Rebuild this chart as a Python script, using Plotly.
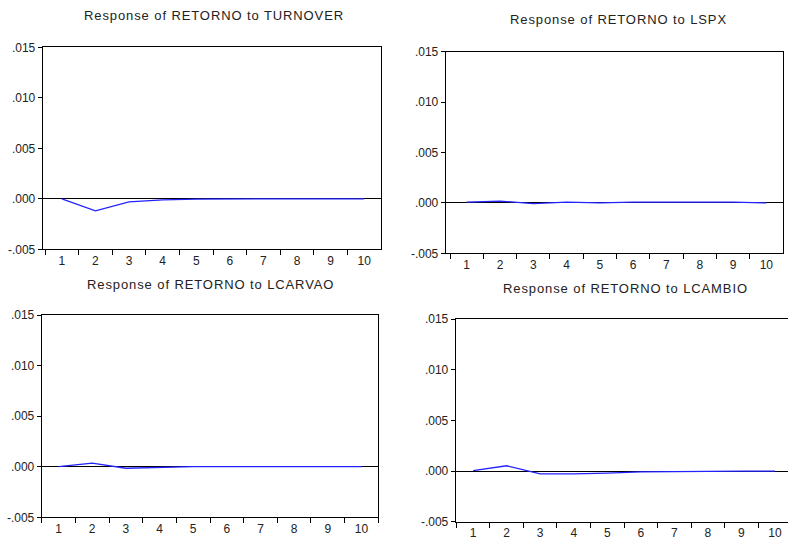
import plotly.graph_objects as go

# Impulse responses of RETORNO over 10 periods
periods = [str(i) for i in range(1, 11)]
turnover = [0.0, -0.00120, -0.00030, -0.00010, -0.00004, -0.00001, 0.0, 0.0, 0.0, 0.0]
lspx = [0.00008, 0.00018, -0.00008, 0.00008, 0.0, 0.00008, 0.00008, 0.00008, 0.00008, 0.0]
lcarvao = [0.0, 0.00035, -0.00015, -0.00006, 0.0, 0.0, 0.0, 0.0, 0.0, 0.0]
lcambio = [0.00004, 0.00052, -0.00028, -0.00028, -0.00020, -0.00008, -0.00005, 0.0, 0.0, 0.0]

titles = ["Response of RETORNO to TURNOVER", "Response of RETORNO to LSPX",
          "Response of RETORNO to LCARVAO", "Response of RETORNO to LCAMBIO"]
y_ticks = [-0.005, 0.0, 0.005, 0.010, 0.015]
y_tick_text = ["-.005", ".000", ".005", ".010", ".015"]

W, H = 788, 539
FONT = "Liberation Sans, Arial, sans-serif"
TXT = "#222222"

# panel boxes in pixels: (left, right, top, bottom), category range, title centre
panels = [
    dict(box=(42.7, 381.0, 47.3, 249.3), xr=[-0.57, 9.5], tc=(214, 16), mirror_y=True),
    dict(box=(445.7, 783.0, 51.7, 253.3), xr=[-0.63, 9.5], tc=(618, 20), mirror_y=True),
    dict(box=(41.7, 378.3, 315.0, 517.3), xr=[-0.5, 9.5], tc=(210, 284), mirror_y=True),
    dict(box=(455.7, 788.0, 319.0, 521.7), xr=[-0.52, 9.39], tc=(625, 288), mirror_y=False),
]
series = [turnover, lspx, lcarvao, lcambio]

fig = go.Figure()
layout = dict(
    width=W, height=H, autosize=False,
    margin=dict(l=0, r=0, t=0, b=0, pad=0, autoexpand=False),
    paper_bgcolor="white", plot_bgcolor="white", showlegend=False,
    font=dict(family=FONT, size=12, color=TXT),
    annotations=[],
)

for i, (p, ys) in enumerate(zip(panels, series), start=1):
    l, r, t, b = p["box"]
    sfx = "" if i == 1 else str(i)
    fig.add_trace(go.Scatter(
        x=periods, y=ys, mode="lines",
        line=dict(color="rgb(35,35,255)", width=1.3),
        xaxis="x" + sfx, yaxis="y" + sfx, hoverinfo="skip",
    ))
    layout["xaxis" + sfx] = dict(
        domain=[l / W, r / W], anchor="y" + sfx, type="category",
        range=p["xr"], tickson="boundaries", ticks="outside", ticklen=5,
        tickcolor="black", tickwidth=1, showline=True, linecolor="black",
        linewidth=1, mirror=True, showgrid=False, zeroline=False,
        automargin=False,
        tickfont=dict(family=FONT, size=12, color=TXT),
    )
    layout["yaxis" + sfx] = dict(
        domain=[1 - b / H, 1 - t / H], anchor="x" + sfx,
        range=[-0.005, 0.015], tickvals=y_ticks, ticktext=y_tick_text,
        ticks="outside", ticklen=4, tickcolor="black", tickwidth=1,
        showline=True, linecolor="black", linewidth=1,
        mirror=p["mirror_y"], showgrid=False, automargin=False,
        zeroline=True, zerolinecolor="black", zerolinewidth=1,
        tickfont=dict(family=FONT, size=12, color=TXT),
    )
    cx, cy = p["tc"]
    layout["annotations"].append(dict(
        text='<span style="letter-spacing:0.9px">' + titles[i - 1] + "</span>",
        x=cx / W, y=1 - cy / H, xref="paper", yref="paper",
        xanchor="center", yanchor="middle", showarrow=False,
        font=dict(family=FONT, size=13, color=TXT),
    ))

fig.update_layout(**layout)
fig.write_html("out.html")
